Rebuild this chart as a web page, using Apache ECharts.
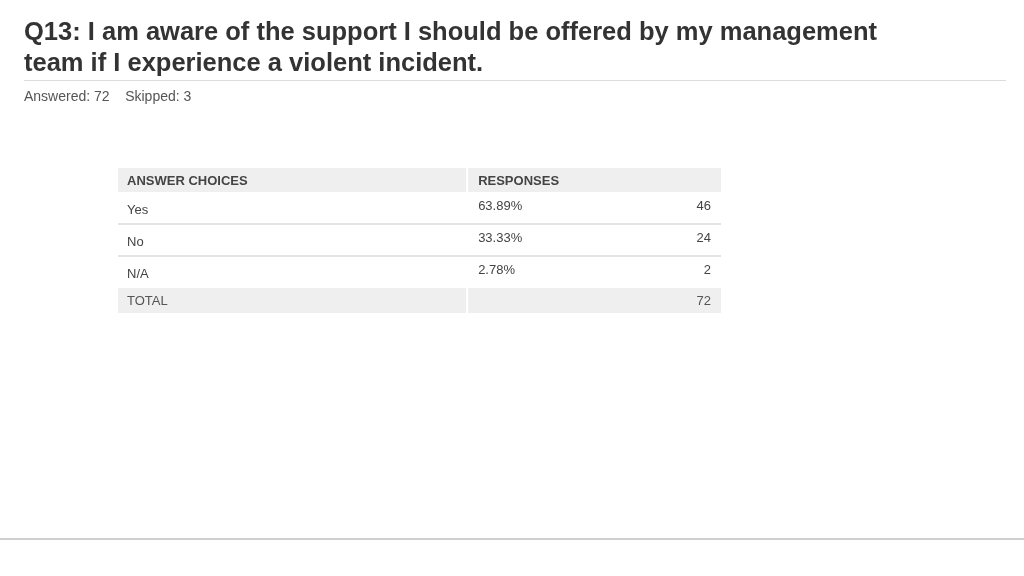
<!DOCTYPE html>
<html>
<head>
    <meta charset="utf-8">
    <title>Q13 table</title>
    <script src="https://cdn.jsdelivr.net/npm/echarts@6/dist/echarts.min.js"></script>
    <style>
        html, body { margin: 0; padding: 0; background: #fff; }
    </style>
</head>
<body>
    <div id="demo" style="width: 1024px;height:576px;"></div>
    <script type="text/javascript">
        var choices = ['Yes', 'No', 'N/A'];
        var percents = [63.89, 33.33, 2.78];
        var counts = [46, 24, 2];
        var total = 72;
        var answered = 72;
        var skipped = 3;
        var headers = ['ANSWER CHOICES', 'RESPONSES'];

        // rows of the table: header, answers, total
        var rows = ['header'].concat(choices).concat(['total']);
        var tableData = rows.map(function (r, i) { return [0, i]; });

        var FONT = "'Liberation Sans', Arial, Helvetica, sans-serif";
        var split = 0.579;                 // where the second column starts (share of table width)
        var rowWeights = [24, 32, 32, 32, 25]; // header is thinner than answer rows

        var dom = document.getElementById('demo');
        var chart = echarts.init(dom);

        function renderRow(params, api) {
            var i = api.value(1);
            var left = api.coord([0, i]);
            var right = api.coord([1, i]);
            var band = api.size([0, 1])[1];
            var x0 = left[0], x1 = right[0];
            var xs = x0 + (x1 - x0) * split;

            // spread the full table height over the rows by weight
            var tableTop = api.coord([0, 0])[1] - band / 2;
            var tableH = band * rows.length;
            var sum = rowWeights.reduce(function (a, b) { return a + b; }, 0);
            var before = 0;
            for (var j = 0; j < i; j++) before += rowWeights[j];
            var top = tableTop + tableH * before / sum;
            var h = tableH * rowWeights[i] / sum;
            var mid = top + h / 2 + 1;

            var children = [];
            var kind = rows[i];

            if (kind === 'header' || kind === 'total') {
                children.push({ type: 'rect', shape: { x: x0, y: top, width: xs - x0 - 1, height: h }, style: { fill: '#efefef' } });
                children.push({ type: 'rect', shape: { x: xs + 1, y: top, width: x1 - xs - 1, height: h }, style: { fill: '#efefef' } });
            } else if (kind !== 'N/A') {
                children.push({ type: 'rect', shape: { x: x0, y: top + h - 1, width: x1 - x0, height: 2 }, style: { fill: '#e4e4e4' } });
            }

            if (kind === 'header') {
                children.push({ type: 'text', style: { text: headers[0], x: x0 + 9, y: mid, verticalAlign: 'middle', font: 'bold 13px ' + FONT, fill: '#444' } });
                children.push({ type: 'text', style: { text: headers[1], x: xs + 11, y: mid, verticalAlign: 'middle', font: 'bold 13px ' + FONT, fill: '#444' } });
            } else if (kind === 'total') {
                children.push({ type: 'text', style: { text: 'TOTAL', x: x0 + 9, y: mid, verticalAlign: 'middle', font: '13px ' + FONT, fill: '#555' } });
                children.push({ type: 'text', style: { text: String(total), x: x1 - 10, y: mid, align: 'right', verticalAlign: 'middle', font: '13px ' + FONT, fill: '#555' } });
            } else {
                var k = i - 1;
                children.push({ type: 'text', style: { text: choices[k], x: x0 + 9, y: mid + 1, verticalAlign: 'middle', font: '13px ' + FONT, fill: '#444' } });
                children.push({ type: 'text', style: { text: percents[k].toFixed(2) + '%', x: xs + 11, y: mid - 3, verticalAlign: 'middle', font: '13px ' + FONT, fill: '#444' } });
                children.push({ type: 'text', style: { text: String(counts[k]), x: x1 - 10, y: mid - 3, align: 'right', verticalAlign: 'middle', font: '13px ' + FONT, fill: '#444' } });
            }
            return { type: 'group', children: children };
        }

        var option = {
            backgroundColor: '#fff',
            animation: false,
            title: [
                {
                    text: 'Q13: I am aware of the support I should be offered by my management\nteam if I experience a violent incident.',
                    left: 19,
                    top: 12,
                    textStyle: { fontFamily: FONT, fontWeight: 'bold', fontSize: 25.5, lineHeight: 31, color: '#333' }
                },
                {
                    text: 'Answered: ' + answered + '    Skipped: ' + skipped,
                    left: 19,
                    top: 85,
                    textStyle: { fontFamily: FONT, fontWeight: 'normal', fontSize: 14, color: '#555' }
                }
            ],
            graphic: [
                { type: 'rect', shape: { x: 24, y: 80, width: 982, height: 1 }, style: { fill: '#dcdcdc' } },
                { type: 'rect', shape: { x: 0, y: 538, width: 1024, height: 2 }, style: { fill: '#cfcfcf' } }
            ],
            grid: { left: 118, right: 303, top: 168, bottom: 263 },
            xAxis: { type: 'value', min: 0, max: 1, show: false },
            yAxis: { type: 'category', data: rows, inverse: true, show: false },
            series: [{
                type: 'custom',
                renderItem: renderRow,
                data: tableData,
                silent: true
            }]
        };

        chart.setOption(option);
    </script>
</body>
</html>
